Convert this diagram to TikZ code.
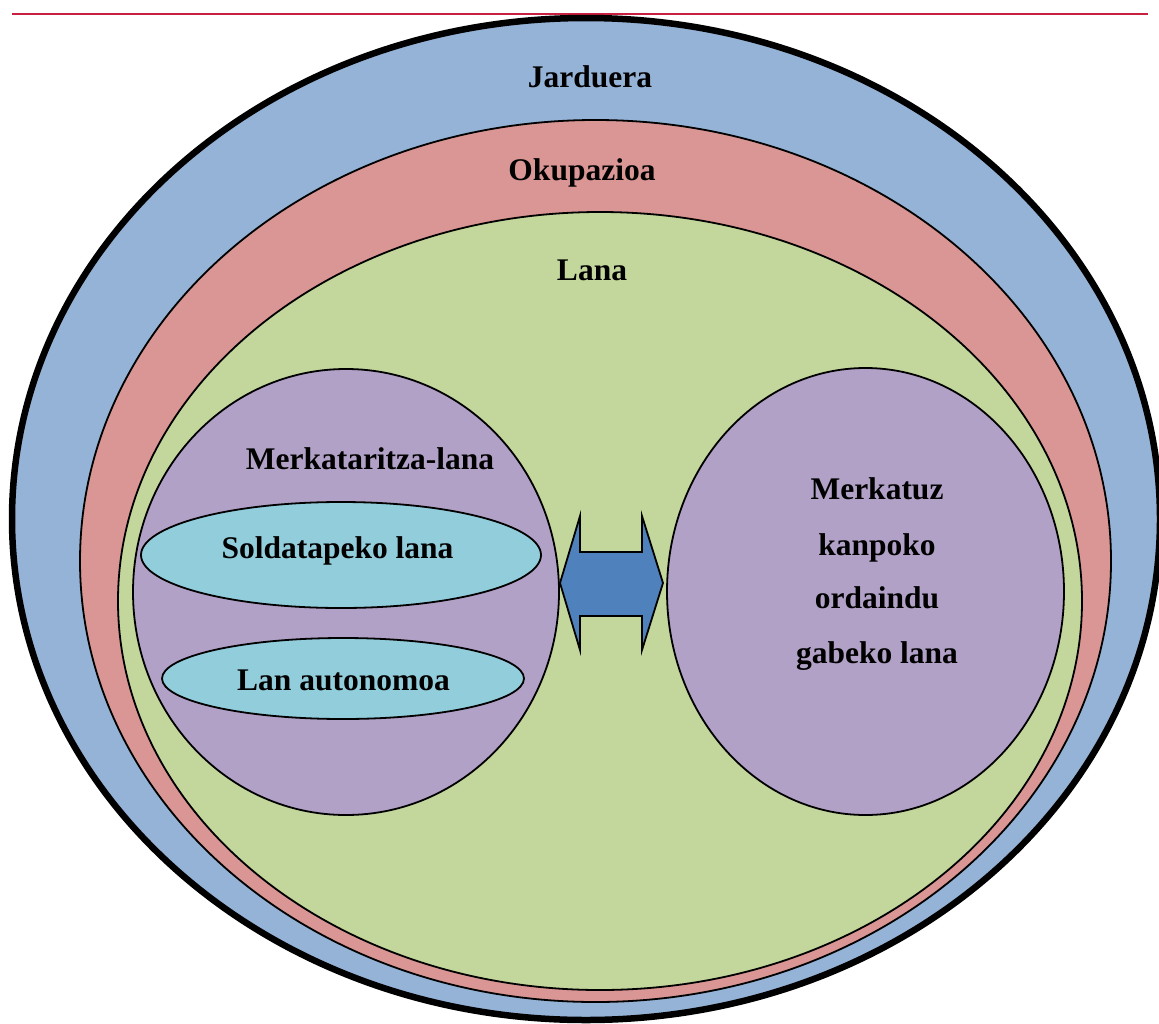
\documentclass[tikz,border=0pt]{standalone}
\usepackage{fontspec}
\setmainfont{Liberation Serif}
\usetikzlibrary{shapes.geometric}
\definecolor{cJard}{HTML}{95B3D7}
\definecolor{cOkup}{HTML}{D99694}
\definecolor{cLana}{HTML}{C3D69B}
\definecolor{cPurp}{HTML}{B2A1C7}
\definecolor{cCyan}{HTML}{92CDDC}
\definecolor{cArrow}{HTML}{4F81BD}
\definecolor{cRule}{HTML}{C8203F}
\tikzset{
  ring/.style={ellipse, draw=black, line width=1.8pt, inner sep=0pt, outer sep=0pt},
  lbl/.style={font=\fontsize{31.5}{36}\selectfont\bfseries, anchor=base, inner sep=0pt},
}
\begin{document}
\begin{tikzpicture}[x=1pt,y=-1pt]
\useasboundingbox (0,0) rectangle (1159,1023);
\draw[cRule, line width=2.5pt] (12,14) -- (1148,14);
\node[ring, fill=cJard, line width=6.5pt, minimum width=1148pt, minimum height=1002pt] (jard) at (586,519) {};
\node[ring, fill=cOkup, minimum width=1031pt, minimum height=882pt] (okup) at (595.5,561) {};
\node[ring, fill=cLana, minimum width=964pt, minimum height=778pt] (lana) at (600,601) {};
\node[ring, fill=cPurp, minimum width=426pt, minimum height=446pt] (merk) at (346,592) {};
\node[ring, fill=cPurp, minimum width=397pt, minimum height=447pt] (kanp) at (865.5,591.5) {};
\node[ring, fill=cCyan, minimum width=400pt, minimum height=106pt] (sold) at (341,555) {};
\node[ring, fill=cCyan, minimum width=362pt, minimum height=81pt] (auto) at (343,678.5) {};
\draw[fill=cArrow, line width=1.8pt, line join=miter]
  (560,583) -- (580,516) -- (580,552) -- (642,552) -- (642,516) -- (663,583)
  -- (642,650) -- (642,616) -- (580,616) -- (580,650) -- cycle;
\node[lbl] (tJard) at (590,87) {Jarduera};
\node[lbl] (tOkup) at (582,180) {Okupazioa};
\node[lbl] (tLana) at (592,280) {Lana};
\node[lbl] (tMerk) at (370,469) {Merkataritza-lana};
\node[lbl] (tSold) at (337.5,558) {Soldatapeko lana};
\node[lbl] (tAuto) at (343.5,690) {Lan autonomoa};
\node[lbl] (tK1) at (877,499) {Merkatuz};
\node[lbl] (tK2) at (877,555) {kanpoko};
\node[lbl] (tK3) at (877,608) {ordaindu};
\node[lbl] (tK4) at (877,663) {gabeko lana};
\end{tikzpicture}
\end{document}
